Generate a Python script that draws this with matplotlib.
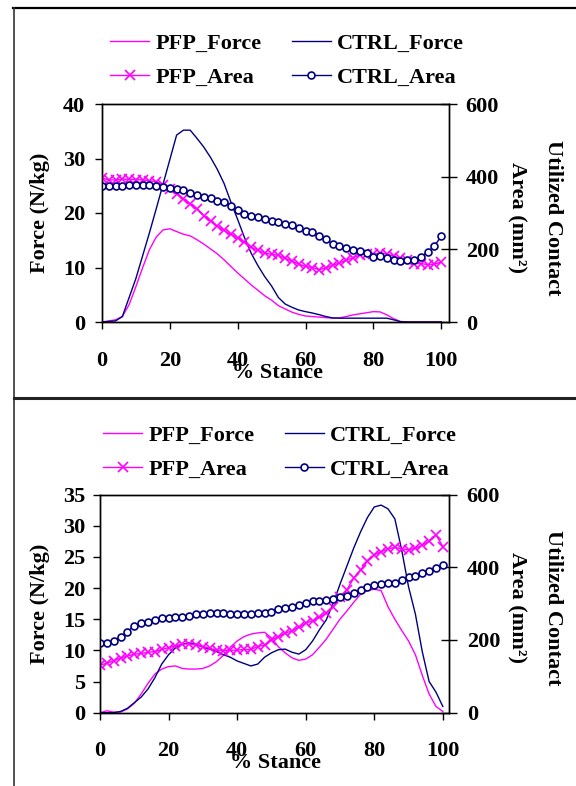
import matplotlib
matplotlib.use('Agg')
import matplotlib.pyplot as plt
from matplotlib.lines import Line2D

# ---------------- data ----------------
stance = [0, 2, 4, 6, 8, 10, 12, 14, 16, 18, 20, 22, 24, 26, 28, 30, 32, 34, 36, 38,
          40, 42, 44, 46, 48, 50, 52, 54, 56, 58, 60, 62, 64, 66, 68, 70, 72, 74, 76, 78,
          80, 82, 84, 86, 88, 90, 92, 94, 96, 98, 100]

# top panel
top_pfp_force = [0, 0.2, 0.4, 1.0, 3.2, 6.5, 10.0, 13.3, 15.6, 16.9,
                 17.1, 16.6, 16.1, 15.8, 15.1, 14.3, 13.4, 12.5, 11.4, 10.2,
                 9.0, 7.9, 6.8, 5.8, 4.8, 4.0, 3.0, 2.4, 1.8, 1.4,
                 1.1, 1.0, 0.9, 0.8, 0.7, 0.75, 1.0, 1.3, 1.5, 1.7,
                 1.9, 1.85, 1.3, 0.6, 0.1, 0, 0, 0, 0, 0, 0]
top_ctrl_force = [0, 0.1, 0.2, 1.0, 4.5, 8.0, 12.2, 16.4, 20.8, 25.3,
                  29.8, 34.3, 35.2, 35.2, 33.7, 32.1, 30.2, 28.0, 25.4, 22.0,
                  18.8, 15.5, 12.6, 10.3, 8.3, 6.6, 4.5, 3.3, 2.7, 2.2,
                  1.9, 1.65, 1.35, 1.0, 0.75, 0.7, 0.7, 0.7, 0.7, 0.7,
                  0.7, 0.7, 0.7, 0.4, 0.05, 0, 0, 0, 0, 0, 0]
top_pfp_area = [396, 391, 391, 393, 393, 392, 391, 389, 386, 377,
                366, 353, 339, 325, 312, 293, 278, 263, 252, 241,
                232, 220, 206, 197, 190, 186, 184, 175, 168, 159,
                153, 150, 144, 149, 156, 163, 170, 177, 184, 188,
                186, 190, 188, 181, 175, 172, 161, 161, 158, 159, 165]
top_ctrl_area = [373, 373, 373, 374, 378, 378, 377, 377, 375, 372,
                 369, 366, 363, 355, 350, 345, 341, 334, 330, 320,
                 309, 298, 293, 288, 284, 279, 274, 270, 266, 259,
                 250, 247, 238, 229, 214, 209, 205, 199, 195, 190,
                 179, 181, 176, 172, 168, 170, 172, 179, 193, 209, 236]

# bottom panel
bot_pfp_force = [0, 0.3, 0.1, 0.1, 0.6, 1.5, 3.0, 4.7, 6.2, 7.0,
                 7.4, 7.5, 7.1, 7.0, 7.0, 7.1, 7.5, 8.2, 9.2, 10.5,
                 11.5, 12.2, 12.6, 12.8, 12.9, 12.0, 10.6, 9.6, 8.8, 8.4,
                 8.6, 9.3, 10.5, 11.8, 13.4, 15.0, 16.3, 17.7, 19.0, 19.6,
                 19.8, 19.6, 17.0, 15.0, 13.2, 11.5, 9.3, 6.0, 3.0, 1.0, 0.2]
bot_ctrl_force = [0, 0, 0, 0.2, 0.7, 1.6, 2.5, 3.8, 5.6, 7.8,
                  9.3, 10.4, 11.0, 11.2, 11.0, 10.5, 10.2, 9.8, 9.3, 8.9,
                  8.3, 7.9, 7.5, 7.8, 8.9, 9.6, 10.1, 10.2, 9.7, 9.4,
                  10.1, 11.5, 13.3, 14.9, 17.5, 20.6, 23.5, 26.4, 29.0, 31.3,
                  33.0, 33.3, 32.7, 31.1, 26.1, 20.2, 15.8, 9.8, 5.0, 3.3, 1.0]
bot_pfp_area = [131, 136, 143, 150, 156, 161, 163, 166, 168, 174,
                179, 184, 189, 189, 186, 182, 177, 172, 171, 172,
                172, 174, 174, 182, 186, 200, 209, 218, 226, 235,
                246, 253, 262, 273, 290, 317, 338, 370, 393, 416,
                434, 443, 450, 455, 450, 448, 452, 461, 471, 489, 457]
bot_ctrl_area = [191, 191, 198, 209, 223, 239, 246, 250, 255, 260,
                 261, 264, 264, 267, 271, 271, 273, 275, 275, 272,
                 271, 271, 271, 273, 273, 278, 284, 289, 292, 296,
                 301, 306, 307, 310, 313, 319, 322, 328, 338, 345,
                 350, 353, 356, 356, 365, 372, 377, 383, 391, 399, 405]

x_ticks = [0, 20, 40, 60, 80, 100]
area_ticks = [0, 200, 400, 600]
labels = ['PFP_Force', 'CTRL_Force', 'PFP_Area', 'CTRL_Area']

# ---------------- style ----------------
plt.rcParams['font.family'] = ['Liberation Serif', 'DejaVu Serif']
plt.rcParams['font.weight'] = 'bold'
plt.rcParams['axes.labelweight'] = 'bold'

W, H = 576, 786
MAG = '#FF00FF'
NAVY = '#000080'
FS = 16

fig = plt.figure(figsize=(W / 100, H / 100), dpi=100)


def px_axes(l, t, r, b):
    return fig.add_axes([l / W, 1 - b / H, (r - l) / W, (b - t) / H])


def panel(rect, xmax, ymax, ystep, pfp_f, ctrl_f, pfp_a, ctrl_a,
          leg_xy, ylab_y, xlab_xy, rlab_y, lpad, rpad, bpad):
    ax = px_axes(*rect)
    ax2 = ax.twinx()
    h1, = ax.plot(stance, pfp_f, color=MAG, lw=1.0)
    h2, = ax.plot(stance, ctrl_f, color=NAVY, lw=1.0)
    h3, = ax2.plot(stance, pfp_a, color=MAG, lw=1.0, marker='x', ms=6.5, mew=1.2)
    h4, = ax2.plot(stance, ctrl_a, color=NAVY, lw=1.0, marker='o', ms=5,
                   mfc='white', mec=NAVY, mew=1.2)
    ax.set_xlim(0, xmax)
    ax.set_ylim(0, ymax)
    ax2.set_ylim(0, 600)
    ax.set_xticks(x_ticks)
    ax.set_yticks(list(range(0, ymax + 1, ystep)))
    ax2.set_yticks(area_ticks)
    for a in (ax, ax2):
        for s in a.spines.values():
            s.set_linewidth(1.0)
            s.set_color('black')
    ax.tick_params(axis='y', direction='out', length=5, width=1, labelsize=FS,
                   pad=lpad, left=True, right=False)
    ax.tick_params(axis='x', direction='out', length=5, width=1, labelsize=FS,
                   pad=bpad, top=False)
    ax2.tick_params(axis='y', direction='inout', length=11, width=1, labelsize=FS,
                    pad=rpad, left=False, right=True)
    fig.legend([h1, h3, h2, h4],
               [labels[0], labels[2], labels[1], labels[3]],
               ncol=2, loc='upper left',
               bbox_to_anchor=(leg_xy[0] / W, 1 - leg_xy[1] / H),
               frameon=False, fontsize=FS, borderpad=0, borderaxespad=0,
               handlelength=1.76, handletextpad=0.27, columnspacing=1.38,
               labelspacing=0.6, numpoints=1)
    fig.text(39.5 / W, 1 - ylab_y / H, 'Force (N/kg)', rotation=90,
             ha='center', va='center', fontsize=FS)
    fig.text(xlab_xy[0] / W, 1 - xlab_xy[1] / H, '% Stance',
             ha='center', va='center', fontsize=FS)
    fig.text(553 / W, 1 - rlab_y / H, 'Utilized Contact', rotation=270,
             ha='center', va='center', fontsize=FS)
    fig.text(517 / W, 1 - rlab_y / H, 'Area (mm²)', rotation=270,
             ha='center', va='center', fontsize=FS)
    return ax


panel((102, 104, 449, 322), 102.3, 40, 10,
      top_pfp_force, top_ctrl_force, top_pfp_area, top_ctrl_area,
      (110, 33.5), 213, (277, 373), 218, 7.0, 6.5, 16.2)
panel((100, 494.5, 449, 712.7), 101.8, 35, 5,
      bot_pfp_force, bot_ctrl_force, bot_pfp_area, bot_ctrl_area,
      (103, 425), 604, (275, 763), 608, 5.5, 7.2, 15.3)

# panel borders
fig.add_artist(Line2D([13 / W, 1], [1 - 8 / H, 1 - 8 / H], transform=fig.transFigure,
                      color='black', lw=1.6))
fig.add_artist(Line2D([14 / W, 14 / W], [0, 1 - 8 / H], transform=fig.transFigure,
                      color='#333333', lw=1.2))
fig.add_artist(Line2D([14 / W, 1], [1 - 398 / H, 1 - 398 / H], transform=fig.transFigure,
                      color='#222222', lw=2.2))

fig.savefig('out.png', dpi=100)
